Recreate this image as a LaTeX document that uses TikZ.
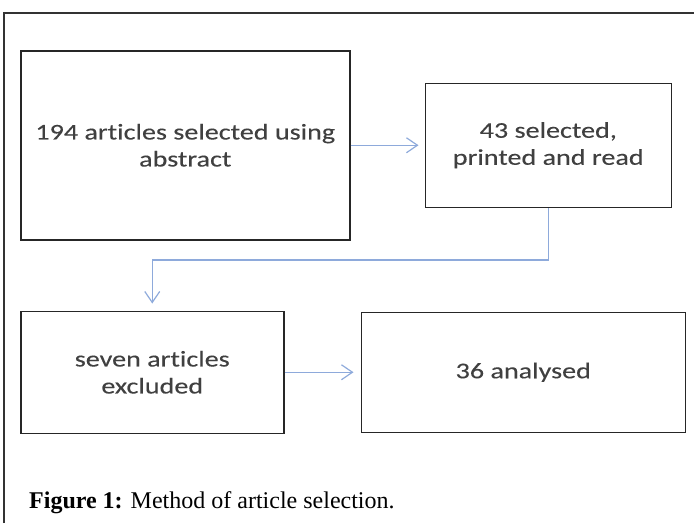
\documentclass[tikz,border=0pt]{standalone}
\usepackage{fontspec}
\setmainfont{Liberation Serif}
\newfontfamily\boxfont{Carlito}[FakeStretch=1.25, FakeBold=0.2, Ligatures=NoCommon]
\usepackage{xcolor}
\definecolor{colorArrow}{HTML}{8EAADB}
\colorlet{colorBox}{black!85}
\colorlet{colorBoxText}{black!75}
\colorlet{colorFrame}{black!80}
\usetikzlibrary{arrows.meta, positioning}
\tikzset{stagebox/.style={draw=colorBox, line width=1.5pt, align=center, inner sep=0pt,
  text=colorBoxText, font=\boxfont\fontsize{22.5}{27}\selectfont}}
\tikzset{flow/.style={->, colorArrow, line width=1.2pt, shorten >=6pt}}

\begin{document}
\begin{tikzpicture}[x=1pt, y=-1pt, >={Straight Barb[length=11pt, width=15pt]}]
\useasboundingbox (0,0) rectangle (694,523);
\draw[colorFrame, line width=1.5pt] (4,523) -- (4,13) -- (694,13);
\node[stagebox, minimum width=329pt, minimum height=189pt, anchor=north west] (b194) at (20,50) {194 articles selected using\\abstract};
\node[stagebox, minimum width=246pt, minimum height=124pt, right=74pt of b194] (b43) {43 selected,\\printed and read};
\node[stagebox, minimum width=263pt, minimum height=122pt, below=70pt of b194.south west, anchor=north west] (b7) {seven articles\\excluded};
\node[stagebox, minimum width=324pt, minimum height=120pt, right=76pt of b7] (b36) {36 analysed};
\draw[flow] (b194.east) -- (b194.east -| b43.west);
\draw[flow, shorten >=7pt] (b43.south) -- ++(0,52) -| (b7.north);
\draw[flow, shorten >=7pt] (b7.east) -- (b7.east -| b36.west);
\node[anchor=base west, inner sep=0pt, font=\fontsize{24}{28}\selectfont] (cap) at (29,508) {\textbf{Figure 1:} Method of article selection.};
\end{tikzpicture}
\end{document}
